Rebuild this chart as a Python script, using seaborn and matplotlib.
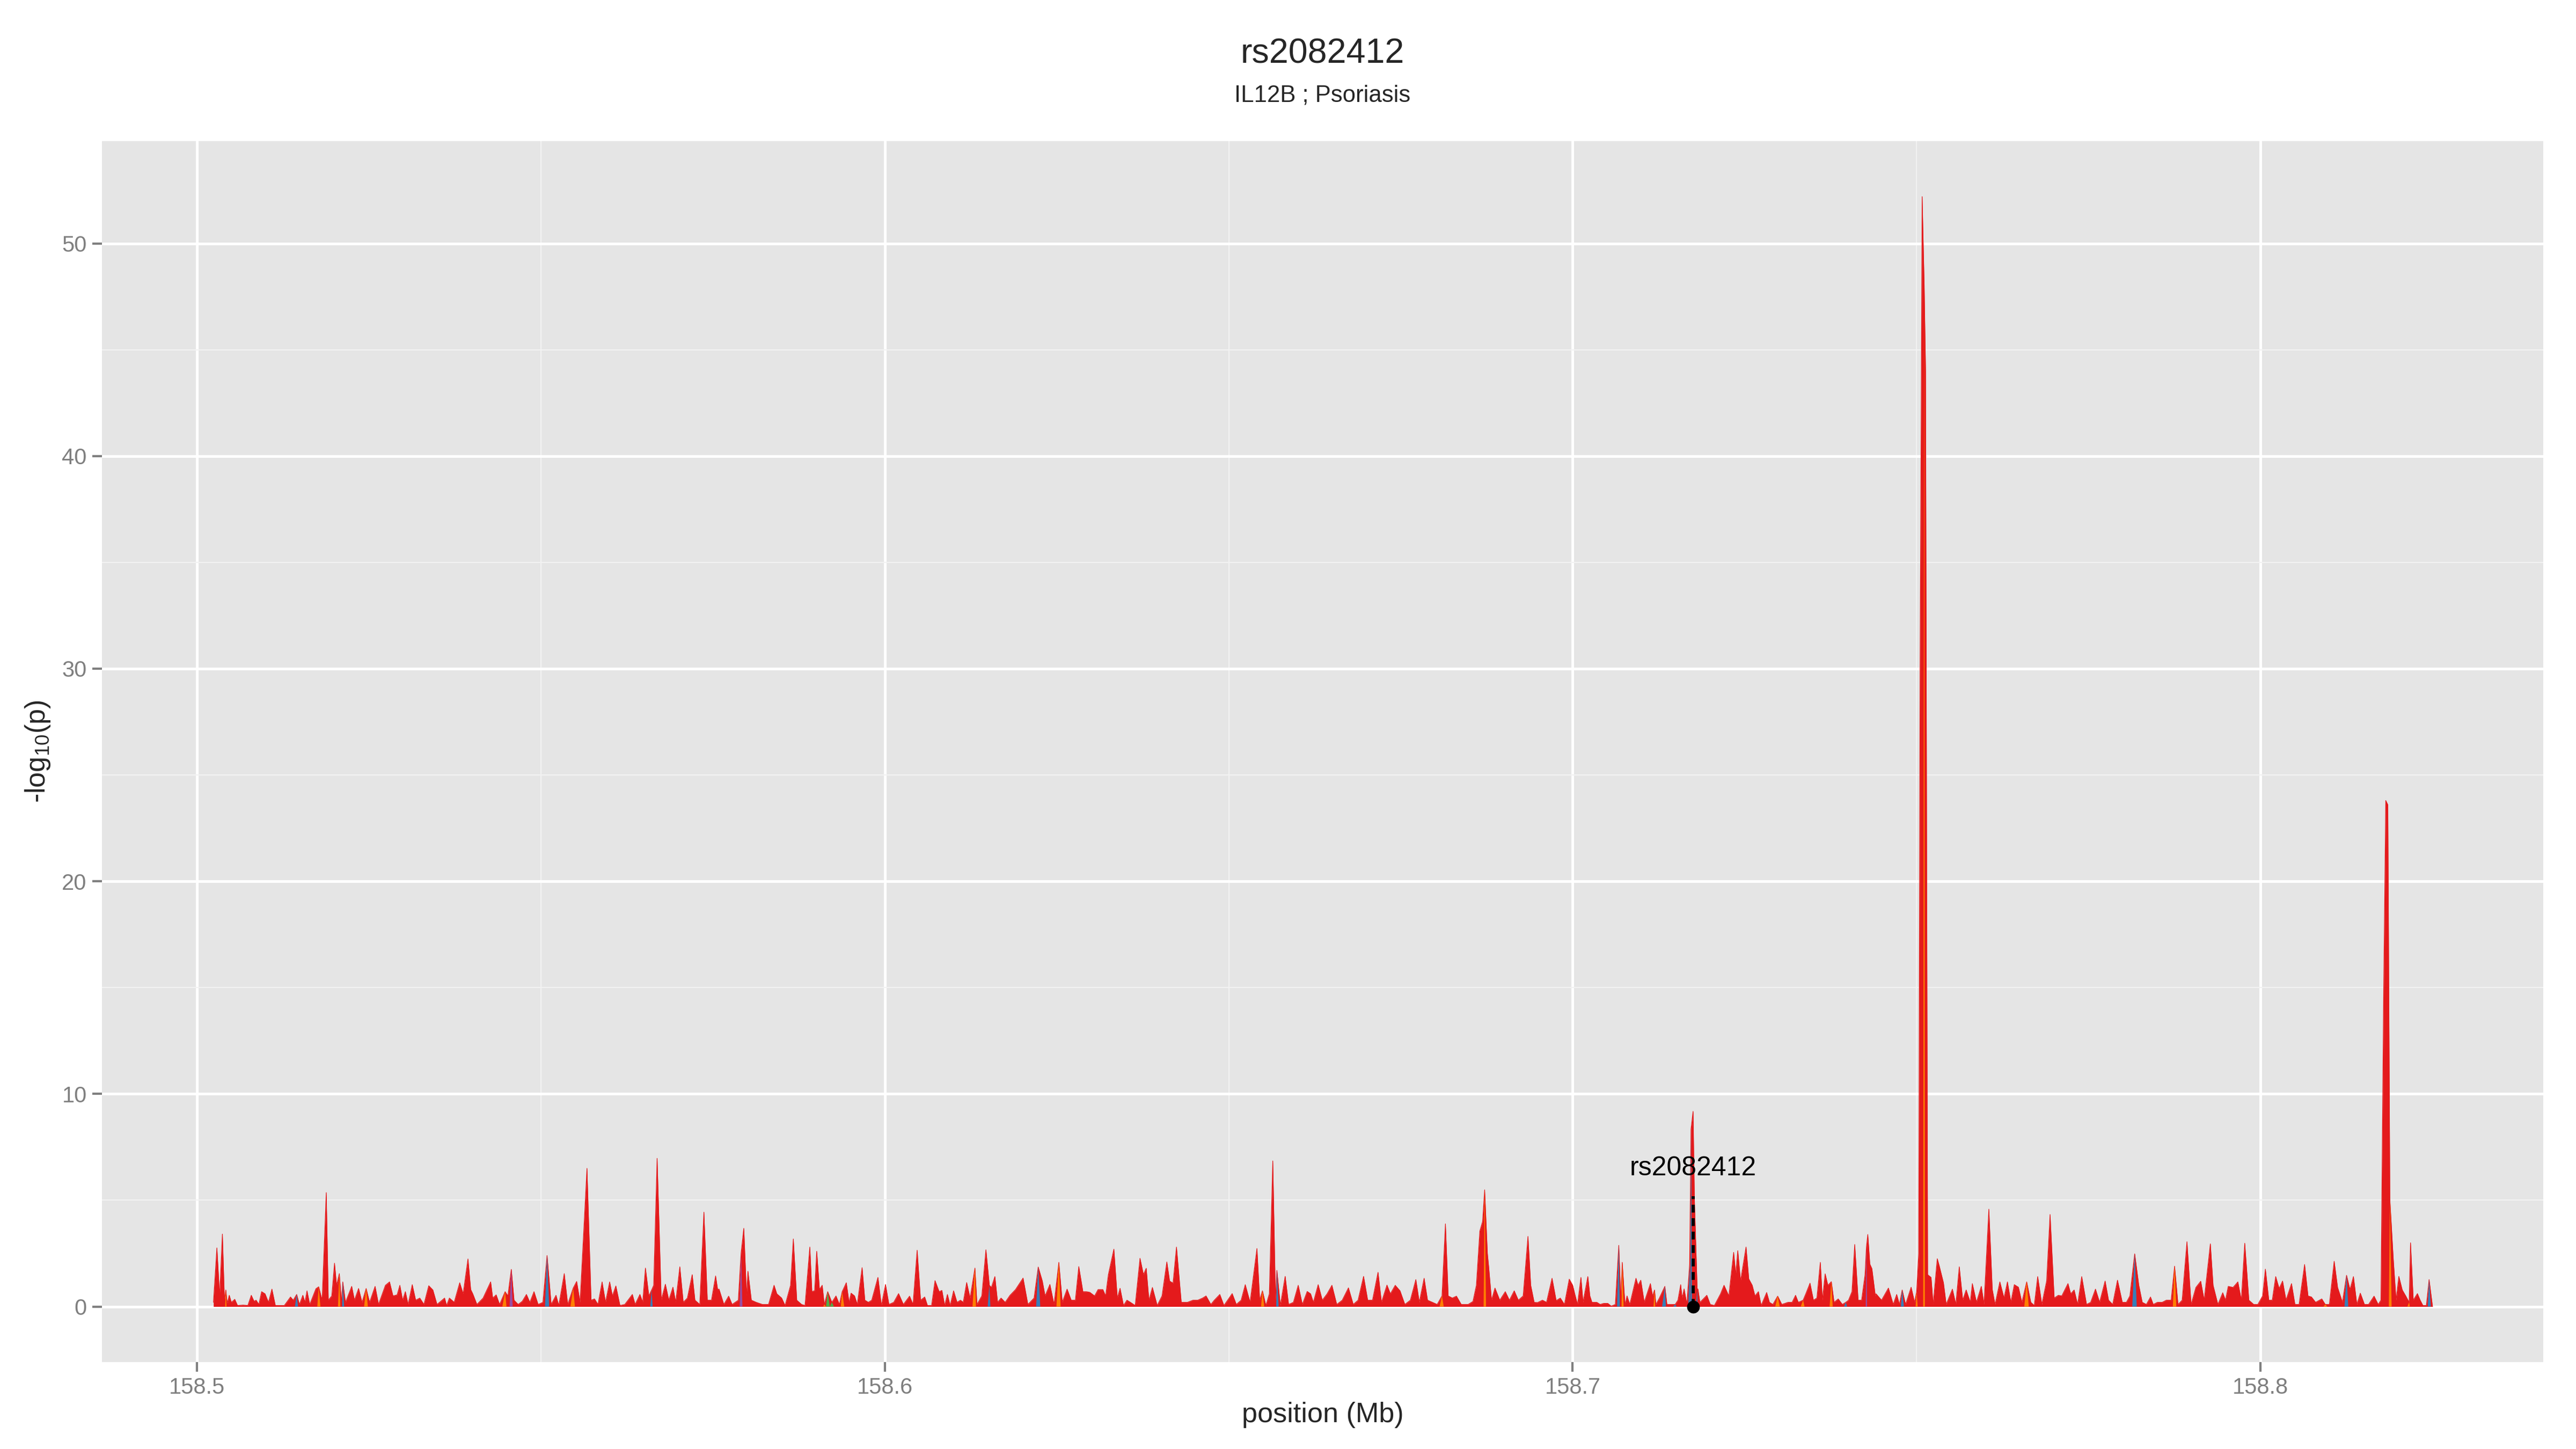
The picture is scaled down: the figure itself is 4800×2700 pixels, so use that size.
import numpy as np
import pandas as pd
import seaborn as sns
import matplotlib.pyplot as plt
from matplotlib.ticker import MultipleLocator

# position (Mb) and -log10(p) in four stretches
pos_1 = [158.5024, 158.5029, 158.5033, 158.5037, 158.5040, 158.5042, 158.5044, 158.5047, 158.5050, 158.5055,
         158.5059, 158.5067, 158.5074, 158.5079, 158.5083, 158.5086, 158.5090, 158.5094, 158.5099, 158.5104,
         158.5109, 158.5114, 158.5127, 158.5136, 158.5140, 158.5145, 158.5149, 158.5154, 158.5157, 158.5160,
         158.5164, 158.5173, 158.5177, 158.5182, 158.5188, 158.5191, 158.5196, 158.5200, 158.5203, 158.5207,
         158.5210, 158.5212, 158.5216, 158.5225, 158.5229, 158.5235, 158.5240, 158.5246, 158.5251, 158.5259,
         158.5264, 158.5274, 158.5280, 158.5285, 158.5291, 158.5295, 158.5299, 158.5303, 158.5307, 158.5313,
         158.5318, 158.5324, 158.5330, 158.5337, 158.5343, 158.5349, 158.5360, 158.5363, 158.5367, 158.5374,
         158.5382, 158.5387, 158.5394, 158.5398, 158.5401, 158.5407, 158.5416, 158.5427, 158.5430, 158.5435,
         158.5440, 158.5448, 158.5452, 158.5457, 158.5461, 158.5467, 158.5473, 158.5479, 158.5484, 158.5490,
         158.5496, 158.5503, 158.5509, 158.5515, 158.5522, 158.5526, 158.5534, 158.5539, 158.5547, 158.5552,
         158.5557, 158.5567, 158.5573, 158.5578, 158.5583, 158.5589, 158.5594, 158.5600, 158.5604, 158.5609,
         158.5615, 158.5622, 158.5633, 158.5637, 158.5644, 158.5648, 158.5652, 158.5657, 158.5661, 158.5664,
         158.5669, 158.5675, 158.5681, 158.5686, 158.5692, 158.5696, 158.5702, 158.5707, 158.5713, 158.5720,
         158.5724, 158.5731, 158.5737, 158.5742, 158.5748, 158.5754, 158.5757, 158.5759, 158.5766, 158.5773,
         158.5778, 158.5787, 158.5791, 158.5795, 158.5799, 158.5801, 158.5806, 158.5813, 158.5822, 158.5831,
         158.5839, 158.5843, 158.5850, 158.5855, 158.5863, 158.5867, 158.5872, 158.5879]
val_1 = [0.2, 2.76, 0.5, 3.41, 0.3, 0.78, 0.15, 0.53, 0.2, 0.34,
         0.05, 0.07, 0.05, 0.53, 0.25, 0.3, 0.1, 0.7, 0.6, 0.2,
         0.82, 0.05, 0.05, 0.45, 0.3, 0.57, 0.1, 0.53, 0.2, 0.74,
         0.1, 0.84, 0.93, 0.3, 5.36, 0.3, 0.5, 2.04, 1.0, 1.55,
         0.2, 1.16, 0.2, 0.95, 0.3, 0.85, 0.2, 0.85, 0.2, 0.95,
         0.1, 1.0, 1.16, 0.5, 0.55, 1.0, 0.3, 0.7, 0.1, 1.03,
         0.3, 0.4, 0.1, 0.98, 0.78, 0.1, 0.4, 0.05, 0.4, 0.2,
         1.12, 0.6, 2.24, 0.8, 0.6, 0.1, 0.4, 1.16, 0.4, 0.55,
         0.1, 0.7, 0.5, 1.75, 0.3, 0.1, 0.25, 0.57, 0.2, 0.7,
         0.1, 0.2, 2.4, 0.1, 0.53, 0.05, 1.55, 0.1, 0.87, 1.18,
         0.2, 6.5, 0.3, 0.36, 0.1, 1.16, 0.2, 1.16, 0.5, 0.97,
         0.05, 0.1, 0.57, 0.1, 0.57, 0.2, 1.81, 0.5, 0.78, 1.0,
         6.97, 0.3, 1.05, 0.3, 0.91, 0.2, 1.87, 0.2, 0.4, 1.5,
         0.3, 0.1, 4.44, 0.3, 0.3, 1.44, 0.8, 0.82, 0.1, 0.49,
         0.1, 0.3, 2.5, 3.68, 0.5, 1.66, 0.3, 0.2, 0.1, 0.1,
         1.0, 0.6, 0.4, 0.05, 1.0, 3.18, 0.3, 0.1]

pos_2 = [158.5884, 158.5891, 158.5894, 158.5898, 158.5901, 158.5905, 158.5909, 158.5912, 158.5917, 158.5923,
         158.5929, 158.5934, 158.5938, 158.5944, 158.5948, 158.5951, 158.5956, 158.5960, 158.5967, 158.5971,
         158.5976, 158.5981, 158.5990, 158.5995, 158.6001, 158.6006, 158.6013, 158.6020, 158.6027, 158.6036,
         158.6041, 158.6047, 158.6052, 158.6058, 158.6062, 158.6068, 158.6073, 158.6079, 158.6083, 158.6087,
         158.6091, 158.6095, 158.6100, 158.6105, 158.6110, 158.6114, 158.6119, 158.6124, 158.6131, 158.6134,
         158.6141, 158.6147, 158.6152, 158.6155, 158.6160, 158.6164, 158.6169, 158.6175, 158.6182, 158.6190,
         158.6201, 158.6208, 158.6217, 158.6223, 158.6229, 158.6233, 158.6240, 158.6246, 158.6253, 158.6258,
         158.6265, 158.6271, 158.6277, 158.6282, 158.6288, 158.6293, 158.6298, 158.6305, 158.6310, 158.6317,
         158.6321, 158.6325, 158.6333, 158.6338, 158.6342, 158.6347, 158.6352, 158.6357, 158.6364, 158.6371,
         158.6376, 158.6380, 158.6384, 158.6389, 158.6396, 158.6403, 158.6410, 158.6414, 158.6419, 158.6424,
         158.6431, 158.6440, 158.6448, 158.6455, 158.6462, 158.6467, 158.6474, 158.6479, 158.6487, 158.6493,
         158.6505, 158.6511, 158.6518, 158.6524, 158.6531, 158.6541, 158.6545, 158.6549, 158.6554, 158.6559,
         158.6564, 158.6568, 158.6570, 158.6575, 158.6582, 158.6587, 158.6594, 158.6601, 158.6607, 158.6614,
         158.6619, 158.6623, 158.6630, 158.6636, 158.6643, 158.6650, 158.6657, 158.6665, 158.6674, 158.6681,
         158.6688, 158.6696, 158.6702, 158.6709, 158.6717, 158.6722, 158.6730, 158.6735, 158.6742, 158.6749,
         158.6756, 158.6764, 158.6772, 158.6777, 158.6784, 158.6789, 158.6796, 158.6803, 158.6810, 158.6815,
         158.6819, 158.6825, 158.6831, 158.6838, 158.6848, 158.6855, 158.6860, 158.6865, 158.6869, 158.6872,
         158.6876, 158.6878, 158.6882, 158.6887, 158.6894, 158.6902, 158.6908, 158.6915, 158.6921, 158.6928,
         158.6935, 158.6939, 158.6944, 158.6949, 158.6956, 158.6962, 158.6970]
val_2 = [0.05, 2.8, 0.7, 0.75, 2.6, 0.8, 1.0, 0.1, 0.7, 0.2,
         0.5, 0.1, 0.7, 1.12, 0.2, 0.63, 0.5, 0.1, 1.83, 0.3,
         0.2, 0.3, 1.37, 0.05, 1.04, 0.1, 0.2, 0.61, 0.1, 0.49,
         0.1, 2.65, 0.3, 0.45, 0.05, 0.05, 1.22, 0.7, 0.76, 0.05,
         0.57, 0.05, 0.74, 0.2, 0.3, 0.2, 1.13, 0.4, 1.81, 0.1,
         0.5, 2.67, 1.0, 0.9, 1.41, 0.2, 0.4, 0.2, 0.53, 0.8,
         1.34, 0.1, 0.4, 1.86, 1.2, 0.5, 1.04, 0.1, 2.08, 0.2,
         0.82, 0.3, 0.3, 1.88, 0.7, 0.7, 0.67, 0.5, 0.8, 0.8,
         0.5, 1.5, 2.7, 0.4, 0.86, 0.05, 0.3, 0.2, 0.05, 2.27,
         1.5, 1.8, 0.3, 0.9, 0.05, 0.5, 2.1, 1.2, 1.1, 2.8,
         0.2, 0.2, 0.3, 0.3, 0.4, 0.5, 0.1, 0.3, 0.57, 0.05,
         0.61, 0.1, 0.3, 1.03, 0.2, 2.73, 0.3, 0.74, 0.05, 0.6,
         6.85, 0.3, 1.7, 0.05, 1.42, 0.1, 0.2, 1.0, 0.1, 0.71,
         0.6, 0.2, 1.03, 0.3, 0.6, 1.0, 0.1, 0.3, 0.88, 0.1,
         0.3, 1.42, 0.3, 0.3, 1.61, 0.2, 1.01, 0.6, 1.0, 0.74,
         0.1, 0.3, 1.27, 0.2, 1.33, 0.3, 0.2, 0.1, 0.5, 3.89,
         0.5, 0.4, 0.49, 0.1, 0.1, 0.24, 1.0, 3.55, 4.0, 5.49,
         2.5, 1.83, 0.3, 0.87, 0.3, 0.7, 0.3, 0.74, 0.3, 0.5,
         3.3, 1.0, 0.2, 0.19, 0.3, 0.2, 1.33]

pos_3 = [158.6976, 158.6982, 158.6988, 158.6995, 158.7000, 158.7003, 158.7007, 158.7012, 158.7015, 158.7022,
         158.7025, 158.7028, 158.7035, 158.7040, 158.7045, 158.7051, 158.7056, 158.7062, 158.7067, 158.7070,
         158.7072, 158.7076, 158.7079, 158.7083, 158.7092, 158.7095, 158.7099, 158.7104, 158.7113, 158.7116,
         158.7119, 158.7121, 158.7126, 158.7134, 158.7137, 158.7143, 158.7149, 158.7153, 158.7157, 158.7159,
         158.7162, 158.7166, 158.7170, 158.7172, 158.7175, 158.7177, 158.7181, 158.7182, 158.7185, 158.7195,
         158.7200, 158.7206, 158.7215, 158.7220, 158.7227, 158.7234, 158.7237, 158.7240, 158.7244, 158.7252,
         158.7256, 158.7261, 158.7265, 158.7270, 158.7274, 158.7282, 158.7286, 158.7291, 158.7298, 158.7304,
         158.7313, 158.7319, 158.7324, 158.7328, 158.7335, 158.7339, 158.7345, 158.7350, 158.7355, 158.7360,
         158.7363, 158.7367, 158.7371, 158.7376, 158.7380, 158.7386, 158.7392, 158.7397, 158.7401, 158.7406,
         158.7410, 158.7415, 158.7420, 158.7425, 158.7427, 158.7429, 158.7432, 158.7435, 158.7440]
val_3 = [0.28, 0.4, 0.1, 1.29, 1.0, 0.6, 0.1, 1.37, 0.2, 1.41,
         0.5, 0.2, 0.2, 0.1, 0.15, 0.15, 0.02, 0.1, 2.88, 0.3,
         2.08, 0.1, 0.5, 0.1, 1.33, 1.0, 1.24, 0.2, 1.08, 0.5,
         0.78, 0.1, 0.4, 0.95, 0.1, 0.1, 0.1, 0.3, 1.03, 0.4,
         0.83, 0.1, 2.0, 8.34, 9.18, 5.0, 0.8, 0.83, 0.2, 0.53,
         0.1, 0.05, 0.6, 1.0, 0.5, 2.55, 1.5, 2.63, 1.2, 2.8,
         1.3, 1.0, 0.5, 0.7, 0.05, 0.66, 0.2, 0.1, 0.49, 0.1,
         0.2, 0.2, 0.53, 0.2, 0.3, 0.61, 1.1, 0.3, 0.4, 2.08,
         0.3, 1.54, 1.0, 1.17, 0.2, 0.36, 0.1, 0.2, 0.3, 0.7,
         2.92, 0.3, 0.3, 1.5, 2.8, 3.39, 2.0, 1.78, 0.5]

pos_4 = [158.7441, 158.7449, 158.7459, 158.7466, 158.7471, 158.7475, 158.7479, 158.7484, 158.7492, 158.7497,
         158.7500, 158.7503, 158.7505, 158.7508, 158.7511, 158.7513, 158.7516, 158.7521, 158.7524, 158.7530,
         158.7533, 158.7539, 158.7543, 158.7552, 158.7557, 158.7562, 158.7567, 158.7572, 158.7578, 158.7581,
         158.7587, 158.7594, 158.7598, 158.7605, 158.7610, 158.7614, 158.7621, 158.7627, 158.7632, 158.7637,
         158.7642, 158.7648, 158.7653, 158.7660, 158.7666, 158.7671, 158.7676, 158.7682, 158.7689, 158.7694,
         158.7700, 158.7706, 158.7711, 158.7720, 158.7724, 158.7729, 158.7734, 158.7740, 158.7747, 158.7753,
         158.7760, 158.7766, 158.7774, 158.7779, 158.7785, 158.7792, 158.7799, 158.7805, 158.7810, 158.7817,
         158.7823, 158.7828, 158.7834, 158.7840, 158.7844, 158.7850, 158.7857, 158.7863, 158.7870, 158.7875,
         158.7880, 158.7886, 158.7893, 158.7899, 158.7906, 158.7913, 158.7918, 158.7927, 158.7931, 158.7938,
         158.7945, 158.7949, 158.7953, 158.7960, 158.7967, 158.7972, 158.7977, 158.7983, 158.7990, 158.7996,
         158.8003, 158.8007, 158.8012, 158.8017, 158.8022, 158.8027, 158.8032, 158.8037, 158.8045, 158.8050,
         158.8056, 158.8064, 158.8069, 158.8074, 158.8080, 158.8089, 158.8094, 158.8100, 158.8107, 158.8112,
         158.8119, 158.8125, 158.8130, 158.8135, 158.8140, 158.8145, 158.8151, 158.8157, 158.8165, 158.8171,
         158.8175, 158.8179, 158.8182, 158.8185, 158.8188, 158.8193, 158.8197, 158.8201, 158.8206, 158.8211,
         158.8216, 158.8218, 158.8222, 158.8228, 158.8232, 158.8236, 158.8241, 158.8245, 158.8250]
val_4 = [0.6, 0.3, 0.87, 0.1, 0.57, 0.1, 0.78, 0.1, 0.91, 0.2,
         0.7, 2.5, 30.0, 52.2, 48.0, 44.0, 1.5, 1.37, 0.1, 2.25,
         1.9, 1.12, 0.1, 0.82, 0.1, 1.87, 0.3, 0.78, 0.2, 1.08,
         0.2, 0.95, 0.1, 4.58, 0.8, 0.1, 1.16, 0.4, 1.16, 0.2,
         1.03, 0.91, 0.2, 1.16, 0.2, 0.05, 1.41, 0.1, 1.2, 4.33,
         0.4, 0.53, 0.5, 1.08, 0.6, 0.78, 0.1, 1.41, 0.1, 0.2,
         0.82, 0.2, 1.2, 0.3, 0.1, 1.24, 0.2, 0.2, 0.5, 2.48,
         1.0, 0.2, 0.1, 0.45, 0.1, 0.2, 0.2, 0.3, 0.3, 1.9,
         0.1, 0.3, 3.05, 0.1, 0.9, 1.19, 0.3, 2.95, 1.0, 0.1,
         0.65, 0.3, 0.95, 0.9, 1.16, 0.3, 2.98, 0.3, 0.1, 0.1,
         0.5, 1.76, 0.3, 0.3, 1.41, 0.85, 1.2, 0.3, 1.08, 0.1,
         0.1, 1.98, 0.5, 0.45, 0.2, 0.36, 0.1, 0.1, 2.13, 0.9,
         0.2, 1.47, 0.8, 1.41, 0.1, 0.63, 0.1, 0.1, 0.49, 0.1,
         0.3, 15.0, 23.8, 23.6, 5.0, 2.2, 0.3, 1.42, 0.78, 0.5,
         0.2, 3.0, 0.3, 0.61, 0.3, 0.05, 0.05, 1.27, 0.0]

# SNPs drawn in a colour other than red
orange_snps = [158.5042, 158.5177, 158.5207, 158.5246, 158.5448, 158.5547, 158.5912, 158.5938,
               158.6131, 158.6253, 158.6549, 158.6810, 158.6872, 158.7072, 158.7119, 158.7298,
               158.7335, 158.7376, 158.7500, 158.7511, 158.7660, 158.7875, 158.8094, 158.8188, 158.8216]
blue_snps = [158.5145, 158.5212, 158.5509, 158.5661, 158.6152, 158.6223, 158.6570, 158.7067,
             158.7134, 158.7149, 158.7170, 158.7172, 158.7181, 158.7397, 158.7479, 158.7817,
             158.8125, 158.8245]
green_snps = [158.5917, 158.5923]
purple_snps = [158.5457, 158.5791, 158.7427]

lead_snp = 'rs2082412'
lead_pos = 158.7175
gene_trait = 'IL12B ; Psoriasis'

colours = {'red': '#E41A1C', 'blue': '#377EB8', 'green': '#4DAF4A',
           'purple': '#984EA3', 'orange': '#FF7F00'}

df = pd.DataFrame({'pos': pos_1 + pos_2 + pos_3 + pos_4,
                   'logp': val_1 + val_2 + val_3 + val_4})
df['group'] = 'red'
for name, snps in [('orange', orange_snps), ('blue', blue_snps),
                   ('green', green_snps), ('purple', purple_snps)]:
    hit = np.isclose(df['pos'].values[:, None], np.array(snps)[None, :],
                     rtol=0, atol=1e-6).any(axis=1)
    df.loc[hit, 'group'] = name

sns.set_theme(style='darkgrid', rc={'axes.facecolor': '#E5E5E5', 'grid.color': 'white'})
plt.rcParams['font.family'] = ['Liberation Sans', 'DejaVu Sans']
plt.rcParams['mathtext.fontset'] = 'custom'
plt.rcParams['mathtext.rm'] = 'Liberation Sans'

fig = plt.figure(figsize=(16, 9), dpi=300)
ax = fig.add_axes([0.0396, 0.06, 0.9477, 0.8426])

# main red area + outline
ax.fill_between(df['pos'], 0, df['logp'], color=colours['red'], lw=0, zorder=2)
sns.lineplot(data=df, x='pos', y='logp', color=colours['red'], lw=0.3,
             estimator=None, ax=ax, zorder=2)

# coloured spikes on top
p = df['pos'].values
v = df['logp'].values
for i in np.where(df['group'] != 'red')[0]:
    lft = p[i] - 0.5 * (p[i] - p[max(i - 1, 0)])
    rgt = p[i] + 0.5 * (p[min(i + 1, len(p) - 1)] - p[i])
    ax.fill([lft, p[i], rgt], [0, v[i], 0], color=colours[df['group'].iloc[i]], lw=0, zorder=3)

# lead SNP marker
ax.plot([lead_pos, lead_pos], [0, 5.2], color='black', lw=1.4, ls=(0, (2.5, 1.8)), zorder=4)
sns.scatterplot(x=[lead_pos], y=[0], color='black', s=28, edgecolor=None, ax=ax, zorder=5)
ax.text(lead_pos, 6.5, lead_snp, ha='center', va='center', fontsize=12, color='black')

ax.set_xlim(158.4862, 158.8411)
ax.set_ylim(-2.61, 54.81)
ax.xaxis.set_major_locator(MultipleLocator(0.1))
ax.xaxis.set_minor_locator(MultipleLocator(0.05))
ax.yaxis.set_major_locator(MultipleLocator(10))
ax.yaxis.set_minor_locator(MultipleLocator(5))
ax.xaxis.set_major_formatter(plt.FuncFormatter(lambda x, _: f'{x:.1f}'))
ax.grid(which='major', color='white', lw=1.2)
ax.grid(which='minor', color='#F2F2F2', lw=0.55)
ax.tick_params(which='major', bottom=True, left=True, length=4.3, width=1.0,
               color='#7F7F7F', labelcolor='#7F7F7F', labelsize=10, pad=2.5)
ax.tick_params(which='minor', length=0)
for s in ax.spines.values():
    s.set_visible(False)

ax.set_xlabel('position (Mb)', fontsize=12.5, va='center')
ax.xaxis.set_label_coords(0.5, -0.0431)
ax.set_ylabel(r'-log$_{\mathregular{10}}$(p)', fontsize=12.5, va='center')
ax.yaxis.set_label_coords(-0.0262, 0.5)

fig.text(0.5134, 0.9626, lead_snp, ha='center', va='center', fontsize=15.5)
fig.text(0.5134, 0.934, gene_trait, ha='center', va='center', fontsize=10.5)

fig.savefig('out.png', dpi=300)
